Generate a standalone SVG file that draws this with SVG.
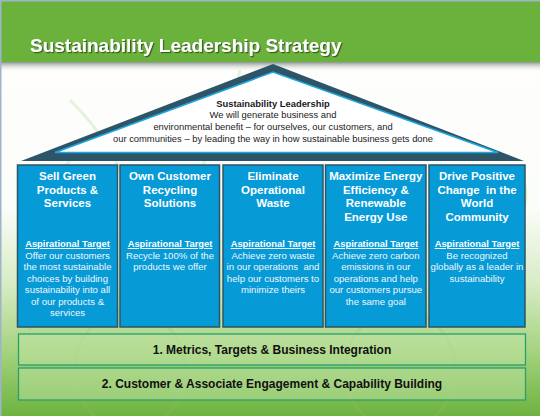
<svg xmlns="http://www.w3.org/2000/svg" width="540" height="416" viewBox="0 0 540 416">
<defs>
<linearGradient id="bg" x1="0" y1="0" x2="0" y2="1">
<stop offset="0" stop-color="#ffffff"/>
<stop offset="0.5" stop-color="#fbfdf9"/>
<stop offset="0.68" stop-color="#d8ecc6"/>
<stop offset="0.85" stop-color="#a3d27c"/>
<stop offset="1" stop-color="#6db33f"/>
</linearGradient>
<linearGradient id="shade" x1="0" y1="0" x2="0" y2="1">
<stop offset="0" stop-color="#7f8a80" stop-opacity="0.9"/>
<stop offset="1" stop-color="#ffffff" stop-opacity="0"/>
</linearGradient>
<filter id="ts" x="-5%" y="-30%" width="110%" height="160%">
<feDropShadow dx="1.2" dy="1.2" stdDeviation="0.6" flood-color="#2a4a1a" flood-opacity="0.8"/>
</filter>
</defs>
<style>
.title{font-family:"Liberation Sans",Arial,sans-serif;font-weight:bold;font-size:19px;fill:#ffffff}
.roof{font-family:"Liberation Sans",Arial,sans-serif;font-size:9.4px;fill:#1a1a1a;text-anchor:middle}
.roofb{font-weight:bold}
.col{fill:#069ad6;stroke:#2e5567;stroke-width:1.5}
.ch{font-family:"Liberation Sans",Arial,sans-serif;font-weight:bold;font-size:11.5px;fill:#ffffff;text-anchor:middle}
.at{font-family:"Liberation Sans",Arial,sans-serif;font-weight:bold;font-size:9.4px;fill:#ffffff;text-anchor:middle;text-decoration:underline}
.cb{font-family:"Liberation Sans",Arial,sans-serif;font-size:9.6px;fill:#eef7fc;text-anchor:middle}
.band{fill:#c6e6aa;fill-opacity:0.45;stroke:#27a070;stroke-width:1.3}
.bt{font-family:"Liberation Sans",Arial,sans-serif;font-weight:bold;font-size:12px;fill:#111111;text-anchor:middle}
.sw{fill:none;stroke:#8cc46a;stroke-opacity:0.22;stroke-width:3}
</style>
<rect x="0" y="0" width="540" height="416" fill="url(#bg)"/>
<g id="swirls">
<path class="sw" d="M30 330 C10 260 30 200 80 150"/>
<path class="sw" d="M240 70 C230 120 200 160 190 200"/>
<path class="sw" d="M70 100 C100 130 120 160 130 200"/>
<ellipse class="sw" cx="130" cy="370" rx="55" ry="60"/>
<ellipse class="sw" cx="400" cy="370" rx="55" ry="60"/>
<path class="sw" d="M480 260 C520 240 535 200 520 170"/>
</g>
<rect x="0" y="62" width="540" height="10" fill="url(#shade)"/>
<rect x="0" y="0" width="540" height="62" fill="#6bb23d"/>
<rect x="0" y="0" width="540" height="1.5" fill="#9fb4c8"/>
<rect x="0" y="0" width="1.5" height="416" fill="#9fb4c8"/>
<text class="title" x="30" y="52" filter="url(#ts)">Sustainability Leadership Strategy</text>
<g id="roof">
<polygon points="21,161 273,64 524,161" fill="#2e5567"/>
<polygon points="55,152.5 273,72 498,152.5" fill="#ffffff" stroke="#1ea6e2" stroke-width="1.6" stroke-linejoin="miter"/>
<text class="roof roofb" x="273" y="107">Sustainability Leadership</text>
<text class="roof" x="273" y="118">We will generate business and</text>
<text class="roof" x="273" y="130">environmental benefit – for ourselves, our customers, and</text>
<text class="roof" x="273" y="142">our communities – by leading the way in how sustainable business gets done</text>
</g>
<g id="col1">
<rect class="col" x="17.5" y="165" width="100" height="162"/>
<text class="ch" x="67.5" y="180">Sell Green</text>
<text class="ch" x="67.5" y="193.7">Products &amp;</text>
<text class="ch" x="67.5" y="207.4">Services</text>
<text class="at" x="67.5" y="247">Aspirational Target</text>
<text class="cb" x="67.5" y="258.7">Offer our customers</text>
<text class="cb" x="67.5" y="270.2">the most sustainable</text>
<text class="cb" x="67.5" y="281.7">choices by building</text>
<text class="cb" x="67.5" y="293.2">sustainability into all</text>
<text class="cb" x="67.5" y="304.7">of our products &amp;</text>
<text class="cb" x="67.5" y="316.2">services</text>
</g>
<g id="col2">
<rect class="col" x="120" y="165" width="99.5" height="162"/>
<text class="ch" x="170" y="180">Own Customer</text>
<text class="ch" x="170" y="193.7">Recycling</text>
<text class="ch" x="170" y="207.4">Solutions</text>
<text class="at" x="170" y="247">Aspirational Target</text>
<text class="cb" x="170" y="258.7">Recycle 100% of the</text>
<text class="cb" x="170" y="270.2">products we offer</text>
</g>
<g id="col3">
<rect class="col" x="223" y="165" width="100" height="162"/>
<text class="ch" x="273" y="180">Eliminate</text>
<text class="ch" x="273" y="193.7">Operational</text>
<text class="ch" x="273" y="207.4">Waste</text>
<text class="at" x="273" y="247">Aspirational Target</text>
<text class="cb" x="273" y="258.7">Achieve zero waste</text>
<text class="cb" x="273" y="270.2" xml:space="preserve">in our operations  and</text>
<text class="cb" x="273" y="281.7">help our customers to</text>
<text class="cb" x="273" y="293.2">minimize theirs</text>
</g>
<g id="col4">
<rect class="col" x="325.5" y="165" width="100.5" height="162"/>
<text class="ch" x="375.8" y="180">Maximize Energy</text>
<text class="ch" x="375.8" y="193.7">Efficiency &amp;</text>
<text class="ch" x="375.8" y="207.4">Renewable</text>
<text class="ch" x="375.8" y="221.1">Energy Use</text>
<text class="at" x="375.8" y="247">Aspirational Target</text>
<text class="cb" x="375.8" y="258.7">Achieve zero carbon</text>
<text class="cb" x="375.8" y="270.2">emissions in our</text>
<text class="cb" x="375.8" y="281.7">operations and help</text>
<text class="cb" x="375.8" y="293.2">our customers pursue</text>
<text class="cb" x="375.8" y="304.7">the same goal</text>
</g>
<g id="col5">
<rect class="col" x="429" y="165" width="96" height="162"/>
<text class="ch" x="477" y="180">Drive Positive</text>
<text class="ch" x="477" y="193.7" xml:space="preserve">Change  in the</text>
<text class="ch" x="477" y="207.4">World</text>
<text class="ch" x="477" y="221.1">Community</text>
<text class="at" x="477" y="247">Aspirational Target</text>
<text class="cb" x="477" y="258.7">Be recognized</text>
<text class="cb" x="477" y="270.2">globally as a leader in</text>
<text class="cb" x="477" y="281.7">sustainability</text>
</g>
<g id="band1">
<rect class="band" x="18.5" y="334" width="507" height="31"/>
<text class="bt" x="272" y="353.5">1. Metrics, Targets &amp; Business Integration</text>
</g>
<g id="band2">
<rect class="band" x="18.5" y="368" width="507" height="32"/>
<text class="bt" x="272" y="388">2. Customer &amp; Associate Engagement &amp; Capability Building</text>
</g>
<g id="connectors"/>
<text x="531" y="412" font-family="Liberation Sans, Arial, sans-serif" font-size="6" fill="#8aa080">1</text>
</svg>
